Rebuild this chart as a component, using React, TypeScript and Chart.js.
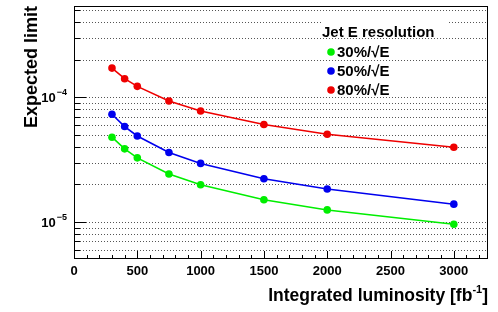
import React, { useEffect, useRef } from "react";
import { Chart, registerables } from "chart.js";
Chart.register(...registerables);

const luminosity = [300, 400, 500, 750, 1000, 1500, 2000, 3000];
const limit30 = [4.79e-5, 3.86e-5, 3.27e-5, 2.43e-5, 1.99e-5, 1.51e-5, 1.25e-5, 9.6e-6];
const limit50 = [7.31e-5, 5.83e-5, 4.9e-5, 3.61e-5, 2.95e-5, 2.22e-5, 1.84e-5, 1.39e-5];
const limit80 = [1.716e-4, 1.411e-4, 1.224e-4, 9.34e-5, 7.77e-5, 6.05e-5, 5.06e-5, 3.98e-5];
const seriesLabels = ["30%/√E", "50%/√E", "80%/√E"];
const seriesColors = ["#00ee00", "#0000ee", "#ee0000"];
const legendTitle = "Jet E resolution";
const xTickLabels = [0, 500, 1000, 1500, 2000, 2500, 3000];
const yMajorExponents = [-5, -4];
const xTitle = "Integrated luminosity [fb";
const xTitleSup = "-1";
const yTitle = "Expected limit";

const X_MIN = 0;
const X_MAX = 3270;
const Y_MIN = 5.05e-6;
const Y_MAX = 5.4e-4;

const FONT = '"Liberation Sans", Arial, Helvetica, sans-serif';

const rootPlugin = {
  id: "rootStyle",
  beforeDatasetsDraw(chart: any) {
    const ctx = chart.ctx;
    const ys = chart.scales.y;
    const a = chart.chartArea;
    ctx.save();
    ctx.strokeStyle = "#555";
    ctx.lineWidth = 1;
    ctx.setLineDash([1, 2]);
    for (let e = -6; e <= -3; e++) {
      for (let m = 1; m <= 9; m++) {
        const v = m * Math.pow(10, e);
        if (v < Y_MIN || v > Y_MAX) continue;
        const y = Math.round(ys.getPixelForValue(v)) + 0.5;
        ctx.beginPath();
        ctx.moveTo(a.left, y);
        ctx.lineTo(a.right, y);
        ctx.stroke();
      }
    }
    ctx.setLineDash([]);
    ctx.fillStyle = "#fff";
    ctx.fillRect(322, 20, 126, 17);
    ctx.restore();
  },
  afterDatasetsDraw(chart: any) {
    const ctx = chart.ctx;
    const xs = chart.scales.x;
    const ys = chart.scales.y;
    const a = chart.chartArea;
    ctx.save();
    ctx.strokeStyle = "#000";
    ctx.lineWidth = 1;
    ctx.strokeRect(Math.round(a.left) + 0.5, Math.round(a.top) + 0.5, Math.round(a.right - a.left) - 1, Math.round(a.bottom - a.top) - 1);
    const majorY = 12;
    for (let e = -6; e <= -3; e++) {
      for (let m = 1; m <= 9; m++) {
        const v = m * Math.pow(10, e);
        if (v < Y_MIN || v > Y_MAX) continue;
        const y = Math.round(ys.getPixelForValue(v)) + 0.5;
        const len = m === 1 ? majorY : majorY / 2;
        ctx.beginPath();
        ctx.moveTo(a.left, y);
        ctx.lineTo(a.left + len, y);
        ctx.stroke();
      }
    }
    for (let v = 0; v <= X_MAX; v += 100) {
      const x = Math.round(xs.getPixelForValue(v)) + 0.5;
      const len = v % 500 === 0 ? 8 : 4;
      ctx.beginPath();
      ctx.moveTo(x, a.bottom);
      ctx.lineTo(x, a.bottom - len);
      ctx.stroke();
    }
    ctx.fillStyle = "#000";
    ctx.font = `bold 13px ${FONT}`;
    ctx.textAlign = "center";
    ctx.textBaseline = "alphabetic";
    for (const v of xTickLabels) {
      ctx.fillText(String(v), xs.getPixelForValue(v), a.bottom + 16);
    }
    for (const e of yMajorExponents) {
      const y = ys.getPixelForValue(Math.pow(10, e));
      ctx.textAlign = "left";
      const supFont = `bold 9px ${FONT}`;
      ctx.font = supFont;
      const sup = "\u2212" + String(-e);
      const supW = ctx.measureText(sup).width;
      ctx.font = `bold 13px ${FONT}`;
      const baseW = ctx.measureText("10").width;
      const x0 = a.left - 8 - supW - baseW;
      ctx.fillText("10", x0, y + 5);
      ctx.font = supFont;
      ctx.fillText(sup, x0 + baseW + 1, y - 2);
    }
    // x title
    ctx.font = `bold 11px ${FONT}`;
    const supW2 = ctx.measureText(xTitleSup).width;
    ctx.font = `bold 17.5px ${FONT}`;
    ctx.textAlign = "left";
    const tW = ctx.measureText(xTitle).width;
    const bW = ctx.measureText("]").width;
    const xs0 = a.right - bW - supW2 - tW;
    const yb = 301;
    ctx.fillText(xTitle, xs0, yb);
    ctx.font = `bold 11px ${FONT}`;
    ctx.fillText(xTitleSup, xs0 + tW, yb - 8);
    ctx.font = `bold 17.5px ${FONT}`;
    ctx.fillText("]", xs0 + tW + supW2, yb);
    // y title
    ctx.save();
    ctx.translate(37, a.top);
    ctx.rotate(-Math.PI / 2);
    ctx.textAlign = "right";
    ctx.font = `bold 18px ${FONT}`;
    ctx.fillText(yTitle, 0, 0);
    ctx.restore();
    // legend
    ctx.textAlign = "left";
    ctx.font = `bold 15px ${FONT}`;
    ctx.fillText(legendTitle, 322, 37);
    const rowsY = [52, 71, 90];
    for (let i = 0; i < seriesLabels.length; i++) {
      ctx.fillStyle = seriesColors[i];
      ctx.beginPath();
      ctx.arc(331, rowsY[i], 3.8, 0, Math.PI * 2);
      ctx.fill();
      ctx.fillStyle = "#000";
      ctx.font = `bold 15px ${FONT}`;
      ctx.fillText(seriesLabels[i], 337, rowsY[i] + 5);
    }
    ctx.restore();
  },
};

export default function App() {
  const ref = useRef<HTMLCanvasElement | null>(null);
  useEffect(() => {
    document.body.style.margin = "0";
    const series = [limit30, limit50, limit80];
    const chart = new Chart(ref.current as HTMLCanvasElement, {
      type: "line",
      data: {
        datasets: series.map((s, i) => ({
          label: seriesLabels[i],
          data: luminosity.map((x, j) => ({ x, y: s[j] })),
          borderColor: seriesColors[i],
          backgroundColor: seriesColors[i],
          pointBackgroundColor: seriesColors[i],
          pointBorderColor: seriesColors[i],
          pointRadius: 3.8,
          pointBorderWidth: 0,
          borderWidth: 1.6,
          tension: 0,
        })),
      },
      options: {
        animation: false,
        responsive: false,
        devicePixelRatio: 1,
        layout: { padding: { left: 74, right: 10, top: 6, bottom: 53 } },
        plugins: { legend: { display: false }, tooltip: { enabled: false } },
        scales: {
          x: { type: "linear", min: X_MIN, max: X_MAX, display: false },
          y: { type: "logarithmic", min: Y_MIN, max: Y_MAX, display: false },
        },
      },
      plugins: [rootPlugin],
    } as any);
    return () => chart.destroy();
  }, []);
  return (
    <div style={{ position: "absolute", left: 0, top: 0, width: 498, height: 312, background: "#fff" }}>
      <canvas ref={ref} width={498} height={312} style={{ width: 498, height: 312 }} />
    </div>
  );
}
